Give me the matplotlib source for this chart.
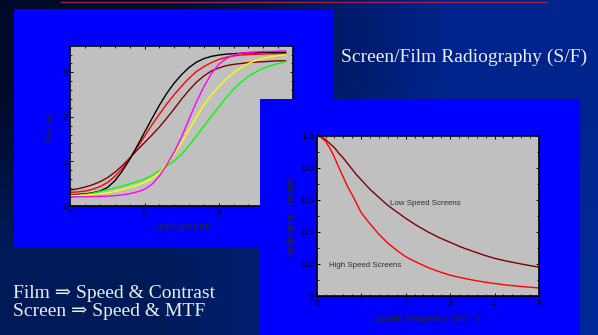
import numpy as np
import matplotlib
matplotlib.use("Agg")
import matplotlib.pyplot as plt
from matplotlib.patches import Rectangle
from matplotlib.ticker import MultipleLocator

# H&D curves (Log Exposure vs Density)
log_e = [4.0, 4.1, 4.2, 4.3, 4.4, 4.5, 4.6, 4.7, 4.8, 4.9, 5.0, 5.1, 5.2, 5.3, 5.4,
         5.5, 5.6, 5.7, 5.8, 5.9, 6.0, 6.1, 6.2, 6.3, 6.4, 6.5, 6.6, 6.7, 6.8, 6.9]
d_black = [0.25, 0.255, 0.265, 0.29, 0.33, 0.41, 0.56, 0.78, 1.04, 1.34, 1.65, 1.96,
           2.26, 2.53, 2.76, 2.95, 3.11, 3.23, 3.31, 3.36, 3.39, 3.41, 3.42, 3.43,
           3.44, 3.44, 3.45, 3.45, 3.45, 3.45]
d_red = [0.30, 0.31, 0.33, 0.37, 0.43, 0.52, 0.66, 0.84, 1.06, 1.31, 1.56, 1.82,
         2.06, 2.29, 2.50, 2.69, 2.87, 3.02, 3.13, 3.22, 3.29, 3.34, 3.37, 3.39,
         3.40, 3.41, 3.41, 3.42, 3.42, 3.42]
d_brown = [0.35, 0.38, 0.42, 0.47, 0.54, 0.63, 0.75, 0.90, 1.07, 1.25, 1.42, 1.59,
           1.77, 1.97, 2.18, 2.40, 2.60, 2.78, 2.92, 3.03, 3.10, 3.15, 3.18, 3.20,
           3.22, 3.23, 3.24, 3.25, 3.26, 3.26]
d_magenta = [0.20, 0.20, 0.20, 0.205, 0.21, 0.215, 0.225, 0.245, 0.27, 0.31, 0.37,
             0.48, 0.67, 0.92, 1.21, 1.55, 1.95, 2.34, 2.68, 2.97, 3.18, 3.31, 3.39,
             3.43, 3.45, 3.46, 3.47, 3.47, 3.48, 3.48]
d_yellow = [0.23, 0.235, 0.24, 0.25, 0.27, 0.29, 0.32, 0.36, 0.41, 0.46, 0.52, 0.61,
            0.74, 0.93, 1.16, 1.42, 1.71, 2.00, 2.27, 2.49, 2.68, 2.85, 2.99, 3.11,
            3.20, 3.27, 3.32, 3.35, 3.38, 3.40]
d_green = [0.20, 0.22, 0.25, 0.28, 0.32, 0.36, 0.40, 0.44, 0.49, 0.54, 0.60, 0.68,
           0.78, 0.89, 1.01, 1.16, 1.35, 1.57, 1.79, 2.01, 2.22, 2.43, 2.62, 2.78,
           2.91, 3.01, 3.09, 3.15, 3.20, 3.24]

# MTF curves
freq = [0, 0.1, 0.2, 0.3, 0.4, 0.5, 0.6, 0.7, 0.8, 0.9, 1.0, 1.2, 1.4, 1.6, 1.8,
        2.0, 2.25, 2.5, 2.75, 3.0, 3.25, 3.5, 3.75, 4.0, 4.25, 4.5, 4.75, 5.0]
mtf_low = [1.0, 0.995, 0.975, 0.95, 0.925, 0.89, 0.86, 0.825, 0.79, 0.755, 0.725,
           0.665, 0.615, 0.565, 0.525, 0.485, 0.44, 0.40, 0.365, 0.335, 0.305,
           0.28, 0.256, 0.235, 0.219, 0.205, 0.192, 0.18]
mtf_high = [1.0, 0.99, 0.965, 0.92, 0.865, 0.80, 0.74, 0.68, 0.63, 0.575, 0.52,
            0.45, 0.385, 0.33, 0.285, 0.245, 0.21, 0.178, 0.152, 0.13, 0.114,
            0.10, 0.088, 0.078, 0.069, 0.062, 0.056, 0.05]

W, H = 598, 335
fig = plt.figure(figsize=(W / 100, H / 100), dpi=100)


def px_axes(x0, y0, x1, y1, **kw):
    # axes placed with pixel coords measured from top-left
    return fig.add_axes([x0 / W, (H - y1) / H, (x1 - x0) / W, (y1 - y0) / H], **kw)


# slide background
bg = px_axes(0, 0, W, H)
grad = np.array([[[0, 10, 40], [0, 36, 140]],
                 [[0, 26, 88], [0, 40, 150]]]) / 255.0
bg.imshow(grad, extent=[0, W, H, 0], interpolation="bilinear", aspect="auto")
bg.set_xlim(0, W)
bg.set_ylim(H, 0)
bg.axis("off")
bg.plot([61, 547], [1.5, 1.5], color="#a0204c", lw=1)
bg.add_patch(Rectangle((14, 9), 320, 239, color="#0000ff", lw=0))


def style(ax):
    ax.set_facecolor("#c0c0c0")
    for s in ax.spines.values():
        s.set_linewidth(1.2)
    ax.tick_params(which="both", direction="in", top=True, right=True,
                   labelsize=6.5, pad=2, colors="black")
    ax.tick_params(which="major", length=2.5, width=0.7)
    ax.tick_params(which="minor", length=1.5, width=0.6)


lab = dict(fontsize=6.5, color="#282828", family="Liberation Sans")

# left chart: characteristic curves
ax1 = px_axes(70.3, 45.7, 293, 205.7)
style(ax1)
ax1.plot(log_e, d_brown, color="#800000", lw=1)
ax1.plot(log_e, d_red, color="#ff0000", lw=1)
ax1.plot(log_e, d_black, color="#000000", lw=1)
ax1.plot(log_e, d_green, color="#00ff00", lw=1)
ax1.plot(log_e, d_yellow, color="#ffff00", lw=1)
ax1.plot(log_e, d_magenta, color="#ff00ff", lw=1)
ax1.set_xlim(4, 7)
ax1.set_ylim(0, 3.6)
ax1.set_xticks([4, 5, 6, 7], ["4", "5", "6", ""])
ax1.xaxis.set_minor_locator(MultipleLocator(0.2))
ax1.yaxis.set_major_locator(MultipleLocator(1))
ax1.yaxis.set_minor_locator(MultipleLocator(0.2))
ax1.set_xlabel("Log Exposure", labelpad=3, **lab)
ax1.set_ylabel("Density", labelpad=6, **lab)

# second blue panel on top of the first chart
ov = px_axes(0, 0, W, H)
ov.set_xlim(0, W)
ov.set_ylim(H, 0)
ov.axis("off")
ov.patch.set_alpha(0)
ov.add_patch(Rectangle((260, 99), 320, 240, color="#0000ff", lw=0))

# right chart: MTF
ax2 = px_axes(316.7, 135.7, 539, 296)
style(ax2)
ax2.plot(freq, mtf_low, color="#800000", lw=1)
ax2.plot(freq, mtf_high, color="#ff0000", lw=1)
ax2.set_xlim(0, 5)
ax2.set_ylim(0, 1.0)
ax2.xaxis.set_major_locator(MultipleLocator(1))
ax2.xaxis.set_minor_locator(MultipleLocator(0.2))
ax2.yaxis.set_minor_locator(MultipleLocator(0.1))
ax2.set_yticks([0, 0.2, 0.4, 0.6, 0.8, 1.0], ["0", "0.2", "0.4", "0.6", "0.8", "1.0"])
ax2.set_xlabel("Spatial Frequency (mm$^{-1}$)", labelpad=3, **lab)
ax2.set_ylabel("Modulation Transfer", labelpad=4, **lab)
ax2.text(1.64, 0.58, "Low Speed Screens", fontsize=5.7, color="#303030",
         family="Liberation Sans", va="center")
ax2.text(0.28, 0.19, "High Speed Screens", fontsize=5.7, color="#303030",
         family="Liberation Sans", va="center")

for a in (ax1, ax2):
    for t in a.get_xticklabels() + a.get_yticklabels():
        t.set_family("Liberation Sans")

# slide text
serif = ["Liberation Serif", "DejaVu Serif"]
fig.text(341 / W, 1 - 57 / H, "Screen/Film Radiography (S/F)", fontsize=14,
         color="#ececec", family=serif, va="center", ha="left")
fig.text(13 / W, 1 - 293 / H, "Film \u21d2 Speed & Contrast", fontsize=14,
         color="#ececec", family=serif, va="center", ha="left")
fig.text(13 / W, 1 - 312 / H, "Screen \u21d2 Speed & MTF", fontsize=14,
         color="#ececec", family=serif, va="center", ha="left")

fig.savefig("out.png", dpi=100)
